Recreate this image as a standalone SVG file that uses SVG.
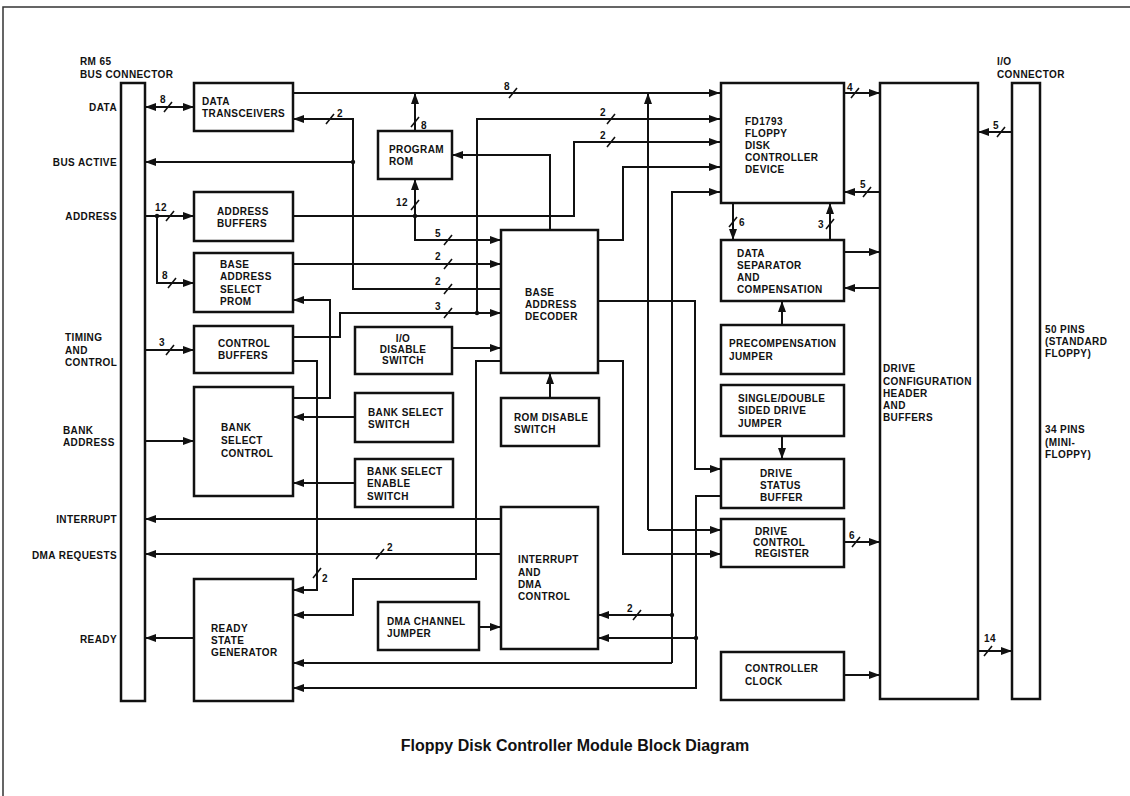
<svg xmlns="http://www.w3.org/2000/svg" width="1130" height="796" viewBox="0 0 1130 796">
<defs>
<marker id="ah" markerWidth="12" markerHeight="8" refX="11" refY="4" orient="auto-start-reverse" markerUnits="userSpaceOnUse"><path d="M0,0 L11,4 L0,8 z" fill="#111"/></marker>
<style>
.box{fill:#fff;stroke:#111;stroke-width:2.5}
.w{fill:none;stroke:#111;stroke-width:2}
.a{marker-end:url(#ah)}
.s{fill:none;stroke:#111;stroke-width:1.6}
.d{fill:#111}
text{font-family:"Liberation Sans",Arial,Helvetica,sans-serif;font-weight:bold;font-size:10px;fill:#111;letter-spacing:0.4px}
.r{text-anchor:end}
.m{text-anchor:middle}
.title{font-size:16px;letter-spacing:0}
</style>
</defs>
<rect width="1130" height="796" fill="#fff"/>
<path d="M3,796 V7 H1130" fill="none" stroke="#333" stroke-width="1.5"/>

<g id="bus-connector">
<rect class="box" x="121" y="83" width="24" height="618"/>
<text x="80" y="65">RM 65</text>
<text x="80" y="78">BUS CONNECTOR</text>
<text class="r" x="117" y="111">DATA</text>
<text class="r" x="117" y="166">BUS ACTIVE</text>
<text class="r" x="117" y="220">ADDRESS</text>
<text x="65" y="341">TIMING</text>
<text x="65" y="354">AND</text>
<text x="65" y="366">CONTROL</text>
<text x="63" y="434">BANK</text>
<text x="63" y="446">ADDRESS</text>
<text class="r" x="117" y="523">INTERRUPT</text>
<text class="r" x="117" y="559">DMA REQUESTS</text>
<text class="r" x="117" y="643">READY</text>
</g>

<g id="io-connector">
<rect class="box" x="1012" y="83" width="28" height="616"/>
<text x="997" y="65">I/O</text>
<text x="997" y="78">CONNECTOR</text>
<text x="1045" y="333">50 PINS</text>
<text x="1045" y="345">(STANDARD</text>
<text x="1045" y="357">FLOPPY)</text>
<text x="1045" y="433">34 PINS</text>
<text x="1045" y="446">(MINI-</text>
<text x="1045" y="458">FLOPPY)</text>
</g>

<g id="drive-config">
<rect class="box" x="880" y="83" width="98" height="616"/>
<text x="883" y="372">DRIVE</text>
<text x="883" y="385">CONFIGURATION</text>
<text x="883" y="397">HEADER</text>
<text x="883" y="409">AND</text>
<text x="883" y="421">BUFFERS</text>
</g>

<g id="data-transceivers">
<rect class="box" x="194" y="83" width="99" height="48"/>
<text x="202" y="105">DATA</text>
<text x="202" y="117">TRANSCEIVERS</text>
</g>
<g id="address-buffers">
<rect class="box" x="194" y="192" width="99" height="49"/>
<text x="217" y="215">ADDRESS</text>
<text x="217" y="227">BUFFERS</text>
</g>
<g id="base-address-select-prom">
<rect class="box" x="194" y="253" width="99" height="59"/>
<text x="220" y="268">BASE</text>
<text x="220" y="280">ADDRESS</text>
<text x="220" y="293">SELECT</text>
<text x="220" y="305">PROM</text>
</g>
<g id="control-buffers">
<rect class="box" x="194" y="326" width="99" height="47"/>
<text x="218" y="347">CONTROL</text>
<text x="218" y="359">BUFFERS</text>
</g>
<g id="bank-select-control">
<rect class="box" x="194" y="387" width="99" height="109"/>
<text x="221" y="431">BANK</text>
<text x="221" y="444">SELECT</text>
<text x="221" y="457">CONTROL</text>
</g>
<g id="ready-state-generator">
<rect class="box" x="194" y="579" width="99" height="122"/>
<text x="211" y="632">READY</text>
<text x="211" y="644">STATE</text>
<text x="211" y="656">GENERATOR</text>
</g>
<g id="program-rom">
<rect class="box" x="378" y="131" width="74" height="48"/>
<text x="389" y="153">PROGRAM</text>
<text x="389" y="165">ROM</text>
</g>
<g id="io-disable-switch">
<rect class="box" x="355" y="327" width="97" height="47"/>
<text class="m" x="403" y="342">I/O</text>
<text class="m" x="403" y="353">DISABLE</text>
<text class="m" x="403" y="364">SWITCH</text>
</g>
<g id="bank-select-switch">
<rect class="box" x="355" y="393" width="98" height="49"/>
<text x="368" y="416">BANK SELECT</text>
<text x="368" y="428">SWITCH</text>
</g>
<g id="bank-select-enable-switch">
<rect class="box" x="355" y="459" width="98" height="48"/>
<text x="367" y="475">BANK SELECT</text>
<text x="367" y="487">ENABLE</text>
<text x="367" y="500">SWITCH</text>
</g>
<g id="dma-channel-jumper">
<rect class="box" x="378" y="602" width="101" height="48"/>
<text x="387" y="625">DMA CHANNEL</text>
<text x="387" y="637">JUMPER</text>
</g>
<g id="base-address-decoder">
<rect class="box" x="501" y="230" width="97" height="143"/>
<text x="525" y="296">BASE</text>
<text x="525" y="308">ADDRESS</text>
<text x="525" y="320">DECODER</text>
</g>
<g id="rom-disable-switch">
<rect class="box" x="501" y="398" width="98" height="48"/>
<text x="514" y="421">ROM DISABLE</text>
<text x="514" y="433">SWITCH</text>
</g>
<g id="interrupt-dma-control">
<rect class="box" x="501" y="507" width="97" height="142"/>
<text x="518" y="563">INTERRUPT</text>
<text x="518" y="576">AND</text>
<text x="518" y="588">DMA</text>
<text x="518" y="600">CONTROL</text>
</g>
<g id="fd1793">
<rect class="box" x="721" y="83" width="123" height="120"/>
<text x="745" y="125">FD1793</text>
<text x="745" y="137">FLOPPY</text>
<text x="745" y="149">DISK</text>
<text x="745" y="161">CONTROLLER</text>
<text x="745" y="173">DEVICE</text>
</g>
<g id="data-separator">
<rect class="box" x="721" y="240" width="123" height="61"/>
<text x="737" y="257">DATA</text>
<text x="737" y="269">SEPARATOR</text>
<text x="737" y="281">AND</text>
<text x="737" y="293">COMPENSATION</text>
</g>
<g id="precompensation-jumper">
<rect class="box" x="721" y="325" width="123" height="49"/>
<text x="729" y="347">PRECOMPENSATION</text>
<text x="729" y="360">JUMPER</text>
</g>
<g id="single-double-jumper">
<rect class="box" x="721" y="385" width="123" height="51"/>
<text x="738" y="402">SINGLE/DOUBLE</text>
<text x="738" y="414">SIDED DRIVE</text>
<text x="738" y="427">JUMPER</text>
</g>
<g id="drive-status-buffer">
<rect class="box" x="721" y="459" width="123" height="49"/>
<text x="760" y="477">DRIVE</text>
<text x="760" y="489">STATUS</text>
<text x="760" y="501">BUFFER</text>
</g>
<g id="drive-control-register">
<rect class="box" x="721" y="519" width="123" height="48"/>
<text x="755" y="535">DRIVE</text>
<text x="753" y="546">CONTROL</text>
<text x="755" y="557">REGISTER</text>
</g>
<g id="controller-clock">
<rect class="box" x="721" y="652" width="123" height="48"/>
<text x="745" y="672">CONTROLLER</text>
<text x="745" y="685">CLOCK</text>
</g>

<g id="connectors">
<path class="w a" d="M145,107 H194" marker-start="url(#ah)"/>
<path class="w a" d="M293,93 H720"/>
<path class="w a" d="M415,131 V93"/>
<path class="w a" d="M145,216 H194"/>
<path class="w a" d="M157,216 V283 H194"/>
<path class="w a" d="M293,216 H574 V142 H720"/>
<path class="w a" d="M415,216 V179"/>
<path class="w a" d="M415,216 V240 H501"/>
<path class="w a" d="M293,264 H501"/>
<path class="w a" d="M501,289 H353 V119 H293"/>
<path class="w a" d="M353,162 H145"/>
<path class="w a" d="M293,337 H340 V313 H501"/>
<path class="w a" d="M477,313 V119 H720"/>
<path class="w a" d="M293,361 H317 V590 H293"/>
<path class="w a" d="M293,398 H330 V300 H293"/>
<path class="w a" d="M145,350 H194"/>
<path class="w a" d="M145,441 H194"/>
<path class="w a" d="M355,417 H293"/>
<path class="w a" d="M355,483 H293"/>
<path class="w a" d="M452,348 H501"/>
<path class="w a" d="M550,398 V373"/>
<path class="w a" d="M550,230 V155 H452"/>
<path class="w a" d="M598,240 H623 V167 H720"/>
<path class="w a" d="M598,301 H695 V469 H721"/>
<path class="w a" d="M598,361 H623 V554 H721"/>
<path class="w a" d="M501,361 H476 V579 H353 V615 H293"/>
<path class="w a" d="M648,530 V93"/>
<path class="w a" d="M648,530 H721"/>
<path class="w a" d="M672,663 V192 H720"/>
<path class="w a" d="M672,663 H293"/>
<path class="w a" d="M672,615 H598"/>
<path class="w a" d="M721,496 H696 V688 H293"/>
<path class="w a" d="M696,638 H598"/>
<path class="w a" d="M501,519 H145"/>
<path class="w a" d="M501,554 H145"/>
<path class="w a" d="M479,627 H501"/>
<path class="w a" d="M194,638 H145"/>
<path class="w a" d="M844,93 H880"/>
<path class="w a" d="M880,192 H844"/>
<path class="w a" d="M733,203 V240"/>
<path class="w a" d="M830,240 V203"/>
<path class="w a" d="M844,252 H880"/>
<path class="w a" d="M880,288 H844"/>
<path class="w a" d="M782,325 V301"/>
<path class="w a" d="M782,436 V459"/>
<path class="w a" d="M844,542 H880"/>
<path class="w a" d="M844,675 H880"/>
<path class="w a" d="M1012,132 H978"/>
<path class="w a" d="M978,651 H1012"/>
<circle class="d" cx="157" cy="216" r="2.2"/>
<circle class="d" cx="415" cy="216" r="2.2"/>
<circle class="d" cx="353" cy="162" r="2.2"/>
<circle class="d" cx="477" cy="313" r="2.2"/>
<circle class="d" cx="696" cy="638" r="2.2"/>
<circle class="d" cx="672" cy="615" r="2.2"/>
<path class="s" d="M164,112 L172,102 M166,221 L174,211 M168,288 L176,278 M166,355 L174,345 M326,124 L334,114 M509,98 L517,88 M411,127 L419,117 M411,210 L419,200 M444,245 L452,235 M444,269 L452,259 M444,294 L452,284 M444,318 L452,308 M607,124 L615,114 M607,147 L615,137 M851,98 L859,88 M863,197 L871,187 M729,227 L737,217 M826,229 L834,219 M997,137 L1005,127 M852,547 L860,537 M984,656 L992,646 M633,620 L641,610 M376,559 L384,549 M313,578 L321,568"/>
<text class="m" x="163" y="103">8</text>
<text class="m" x="161" y="211">12</text>
<text class="m" x="165" y="279">8</text>
<text class="m" x="162" y="346">3</text>
<text x="337" y="117">2</text>
<text class="m" x="507" y="90">8</text>
<text x="421" y="129">8</text>
<text class="m" x="402" y="206">12</text>
<text class="m" x="438" y="237">5</text>
<text class="m" x="438" y="260">2</text>
<text class="m" x="438" y="285">2</text>
<text class="m" x="438" y="310">3</text>
<text class="m" x="603" y="116">2</text>
<text class="m" x="603" y="139">2</text>
<text class="m" x="850" y="91">4</text>
<text class="m" x="863" y="188">5</text>
<text x="739" y="226">6</text>
<text class="m" x="821" y="228">3</text>
<text class="m" x="996" y="129">5</text>
<text class="m" x="852" y="539">6</text>
<text class="m" x="990" y="642">14</text>
<text class="m" x="630" y="612">2</text>
<text class="m" x="390" y="551">2</text>
<text class="m" x="325" y="582">2</text>
</g>

<text class="m title" x="575" y="751">Floppy Disk Controller Module Block Diagram</text>
</svg>
